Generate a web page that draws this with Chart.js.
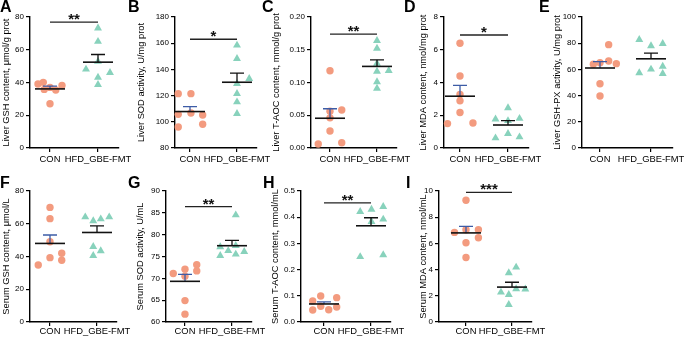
<!DOCTYPE html>
<html>
<head>
<title>Antioxidant indices, liver and serum</title>
<script src="https://cdn.jsdelivr.net/npm/chart.js"></script>
<style>
    body { margin: 0; background: #fff; width: 685px; height: 337px; position: relative; overflow: hidden; }
    canvas { position: absolute; }
    .lbl { position: absolute; font: bold 16px "Liberation Sans", Arial, sans-serif; line-height: 16px; color: #000; }
</style>
</head>
<body>
<script>
const groups = ['CON', 'HFD_GBE-FMT'];

// A  Liver GSH content, umol/g prot
const liverGshCon  = [39.1, 40.1, 37.0, 35.8, 35.4, 38.2, 27.0];
const liverGshConX = [-0.25, -0.14, 0, -0.12, 0.12, 0.25, 0];
const liverGshHfd  = [73.2, 65.0, 52.8, 48.1, 46.0, 43.1, 38.7];
const liverGshHfdX = [0, 0, 0, -0.25, 0.25, 0, 0];

// B  Liver SOD activity, U/mg prot
const liverSodCon  = [121.5, 121.5, 105.7, 106.7, 105.2, 96.0, 98.1];
const liverSodConX = [-0.25, 0.02, -0.25, 0.02, 0.27, -0.25, 0.27];
const liverSodHfd  = [158.4, 148.2, 132.9, 129.1, 121.5, 115.1, 106.2];
const liverSodHfdX = [0, 0, 0.26, 0, 0, 0, 0];

// C  Liver T-AOC content, mmol/g prot
const liverTaocCon  = [0.118, 0.056, 0.058, 0.046, 0.026, 0.006, 0.008];
const liverTaocConX = [0, 0, 0.25, 0, 0, -0.25, 0.25];
const liverTaocHfd  = [0.164, 0.152, 0.129, 0.117, 0.118, 0.101, 0.091];
const liverTaocHfdX = [0, 0, 0, 0, 0.25, 0, 0];

// D  Liver MDA content, nmol/mg prot
const liverMdaCon  = [6.40, 4.40, 3.27, 2.88, 2.17, 1.49, 1.53];
const liverMdaConX = [0, 0, 0, 0, 0, -0.26, 0.27];
const liverMdaHfd  = [2.45, 1.76, 1.66, 1.80, 0.88, 0.61, 0.67];
const liverMdaHfdX = [0, -0.26, 0, 0.24, 0, -0.26, 0.24];

// E  Liver GSH-PX activity, U/mg prot
const liverGpxCon  = [78.9, 63.9, 65.1, 66.4, 64.4, 49.1, 39.7];
const liverGpxConX = [0.17, -0.13, 0, 0.17, 0.32, 0, 0];
const liverGpxHfd  = [82.7, 77.9, 79.6, 57.3, 60.1, 62.3, 56.7];
const liverGpxHfdX = [-0.23, 0, 0.23, -0.23, 0, 0.23, 0.23];

// F  Serum GSH content, umol/L
const serumGshCon  = [70.0, 63.1, 49.0, 42.0, 39.3, 37.7, 34.8];
const serumGshConX = [0, 0, 0, 0.25, 0, 0.25, -0.25];
const serumGshHfd  = [64.1, 61.7, 62.9, 64.1, 46.0, 43.4, 40.5];
const serumGshHfdX = [-0.25, -0.08, 0.08, 0.26, -0.08, 0.08, -0.08];

// G  Serum SOD activity, U/mL
const serumSodCon  = [71.1, 72.1, 70.5, 73.1, 71.7, 64.9, 61.8];
const serumSodConX = [-0.25, 0, 0, 0.25, 0.25, 0, 0];
const serumSodHfd  = [84.5, 77.2, 77.5, 76.3, 76.1, 75.2, 75.5];
const serumSodHfdX = [0.08, -0.25, 0.08, -0.08, 0.26, -0.25, 0.08];

// H  Serum T-AOC content, mmol/mL
const serumTaocCon  = [0.080, 0.099, 0.093, 0.046, 0.060, 0.047, 0.057];
const serumTaocConX = [-0.24, -0.07, 0.27, -0.24, -0.07, 0.1, 0.27];
const serumTaocHfd  = [0.421, 0.430, 0.440, 0.383, 0.392, 0.249, 0.256];
const serumTaocHfdX = [-0.23, 0.01, 0.26, 0.01, 0.26, -0.23, 0.26];

// I  Serum MDA content, nmol/mL
const serumMdaCon  = [9.29, 6.84, 7.04, 7.04, 6.43, 6.05, 4.92];
const serumMdaConX = [0, -0.25, 0, 0.27, 0.27, 0, 0];
const serumMdaHfd  = [4.18, 3.75, 2.27, 2.09, 2.53, 2.51, 1.32];
const serumMdaHfdX = [0.09, -0.07, -0.24, -0.07, 0.09, 0.29, -0.07];

// axes and significance, panel order A..I
const panelLetters = ['A', 'B', 'C', 'D', 'E', 'F', 'G', 'H', 'I'];
const yTitles = [
    'Liver GSH content, \u03bcmol/g prot', 'Liver SOD activity, U/mg prot', 'Liver T-AOC content, mmol/g prot',
    'Liver MDA content, nmol/mg prot', 'Liver GSH-PX activity, U/mg prot', 'Serum GSH content, \u03bcmol/L',
    'Serum SOD activity, U/mL', 'Serum T-AOC content, mmol/mL', 'Serum MDA content, nmol/mL'
];
const yMin  = [0, 80, 0, 0, 0, 0, 60, 0, 0];
const yMax  = [80, 180, 0.2, 8, 100, 80, 90, 0.5, 10];
const yStep = [20, 20, 0.05, 2, 20, 20, 5, 0.1, 2];
const yDec  = [0, 0, 2, 0, 0, 0, 0, 1, 0];
const sigLevel = [76.9, 163, 0.174, 6.9, null, null, 86.4, 0.455, 9.9];
const sigStars = ['**', '*', '**', '*', '', '', '**', '**', '***'];

const seriesCon  = [liverGshCon, liverSodCon, liverTaocCon, liverMdaCon, liverGpxCon, serumGshCon, serumSodCon, serumTaocCon, serumMdaCon];
const seriesConX = [liverGshConX, liverSodConX, liverTaocConX, liverMdaConX, liverGpxConX, serumGshConX, serumSodConX, serumTaocConX, serumMdaConX];
const seriesHfd  = [liverGshHfd, liverSodHfd, liverTaocHfd, liverMdaHfd, liverGpxHfd, serumGshHfd, serumSodHfd, serumTaocHfd, serumMdaHfd];
const seriesHfdX = [liverGshHfdX, liverSodHfdX, liverTaocHfdX, liverMdaHfdX, liverGpxHfdX, serumGshHfdX, serumSodHfdX, serumTaocHfdX, serumMdaHfdX];

// layout: title centre, axis x, CON tick x, HFD tick x, letter position
const layoutBox = [
    { tc: 7,   L: 30,  c: 50,  h: 98,  row: 0, lx: 0,   ly: -1 },
    { tc: 142, L: 175, c: 190, h: 237, row: 0, lx: 128, ly: -1 },
    { tc: 277, L: 311, c: 330, h: 377, row: 0, lx: 262, ly: -1 },
    { tc: 424, L: 444, c: 460, h: 508, row: 0, lx: 404, ly: -1 },
    { tc: 558, L: 582, c: 600, h: 651, row: 0, lx: 539, ly: -1 },
    { tc: 7,   L: 30,  c: 50,  h: 97,  row: 1, lx: 0,   ly: 175 },
    { tc: 141, L: 166, c: 185, h: 232, row: 1, lx: 128, ly: 175 },
    { tc: 276, L: 301, c: 324, h: 371, row: 1, lx: 263, ly: 175 },
    { tc: 424, L: 439, c: 466, h: 512, row: 1, lx: 406, ly: 175 }
];
const rows = [
    { top: 0, T: 17, B: 148, H: 168, pad: 2 },
    { top: 168, T: 191, B: 322, H: 169, pad: 0 }
];

Chart.defaults.font.family = '"Liberation Sans", Arial, sans-serif';
Chart.defaults.color = '#000';

// mean line, upper SEM bar and significance bracket
const meanSem = {
    id: 'meanSem',
    afterDatasetsDraw(chart, args, opts) {
        const { ctx, scales: { x, y } } = chart;
        ctx.save();
        chart.data.datasets.forEach((ds, i) => {
            const vals = ds.data.map(p => p.y);
            const n = vals.length;
            const m = vals.reduce((a, b) => a + b, 0) / n;
            const sd = Math.sqrt(vals.reduce((a, b) => a + (b - m) ** 2, 0) / (n - 1));
            const sem = sd / Math.sqrt(n);
            const px = x.getPixelForValue(i + 1);
            const pm = y.getPixelForValue(m);
            const ps = y.getPixelForValue(m + sem);
            ctx.strokeStyle = i === 0 ? '#3d5ca6' : '#111';
            ctx.lineWidth = 1.3;
            ctx.beginPath();
            ctx.moveTo(px, pm); ctx.lineTo(px, ps);
            ctx.moveTo(px - 7, ps); ctx.lineTo(px + 7, ps);
            ctx.stroke();
            ctx.strokeStyle = '#111';
            ctx.lineWidth = 1.6;
            ctx.beginPath();
            ctx.moveTo(px - 15, pm); ctx.lineTo(px + 15, pm);
            ctx.stroke();
        });
        if (opts.sig != null) {
            const py = y.getPixelForValue(opts.sig);
            const x1 = x.getPixelForValue(1), x2 = x.getPixelForValue(2);
            ctx.strokeStyle = '#222';
            ctx.lineWidth = 1.3;
            ctx.beginPath();
            ctx.moveTo(x1, py); ctx.lineTo(x2, py);
            ctx.stroke();
            ctx.fillStyle = '#111';
            ctx.font = 'bold 15px "Liberation Sans", Arial, sans-serif';
            ctx.textAlign = 'center';
            ctx.textBaseline = 'alphabetic';
            ctx.fillText(opts.stars, (x1 + x2) / 2, py + 2);
        }
        ctx.restore();
    }
};

panelLetters.forEach((letter, i) => {
    const b = layoutBox[i];
    const r = rows[b.row];
    const s = b.h - b.c;
    const xmin = 1 - (b.c - b.L) / s;
    const xmax = 2.42;
    const R = b.h + 0.42 * s;
    const x0 = Math.round(b.tc - 5.6);
    const padRight = 26;

    const cv = document.createElement('canvas');
    cv.width = Math.round(R - x0 + padRight);
    cv.height = r.H;
    cv.style.left = x0 + 'px';
    cv.style.top = r.top + 'px';
    document.body.appendChild(cv);

    const lbl = document.createElement('div');
    lbl.className = 'lbl';
    lbl.textContent = letter;
    lbl.style.left = b.lx + 'px';
    lbl.style.top = b.ly + 'px';
    document.body.appendChild(lbl);

    const tickGrid = { display: true, drawOnChartArea: false, drawTicks: true, tickLength: 4, color: '#000', lineWidth: 1.2 };

    new Chart(cv, {
        type: 'scatter',
        data: {
            datasets: [
                { data: seriesCon[i].map((v, k) => ({ x: 1 + seriesConX[i][k], y: v })), pointStyle: 'circle', pointRadius: 3.7, backgroundColor: '#F39B7F', borderWidth: 0, clip: false },
                { data: seriesHfd[i].map((v, k) => ({ x: 2 + seriesHfdX[i][k], y: v })), pointStyle: 'triangle', pointRadius: 4.6, backgroundColor: '#88D2BC', borderWidth: 0, clip: false }
            ]
        },
        options: {
            responsive: false, animation: false, events: [],
            layout: { padding: { top: r.T - r.top, right: cv.width - (R - x0), left: 0, bottom: 0 } },
            plugins: { legend: { display: false }, tooltip: { enabled: false }, meanSem: { sig: sigLevel[i], stars: sigStars[i] } },
            scales: {
                x: {
                    type: 'linear', min: xmin, max: xmax,
                    afterBuildTicks: sc => { sc.ticks = [{ value: 1 }, { value: 2 }]; },
                    afterFit: sc => { sc.height = r.H - (r.B - r.top); },
                    grid: tickGrid,
                    border: { color: '#000', width: 1.4 },
                    ticks: { callback: v => groups[v - 1], font: { size: 9.4 }, padding: r.pad, maxRotation: 0, autoSkip: false }
                },
                y: {
                    min: yMin[i], max: yMax[i],
                    afterFit: sc => { sc.width = b.L - x0; },
                    grid: tickGrid,
                    border: { color: '#000', width: 1.4 },
                    ticks: { stepSize: yStep[i], callback: v => v.toFixed(yDec[i]), font: { size: 8 }, padding: 2 },
                    title: { display: true, text: yTitles[i], font: { size: 9.3 }, padding: { top: 0, bottom: 0 } }
                }
            }
        },
        plugins: [meanSem]
    });
});
</script>
</body>
</html>
